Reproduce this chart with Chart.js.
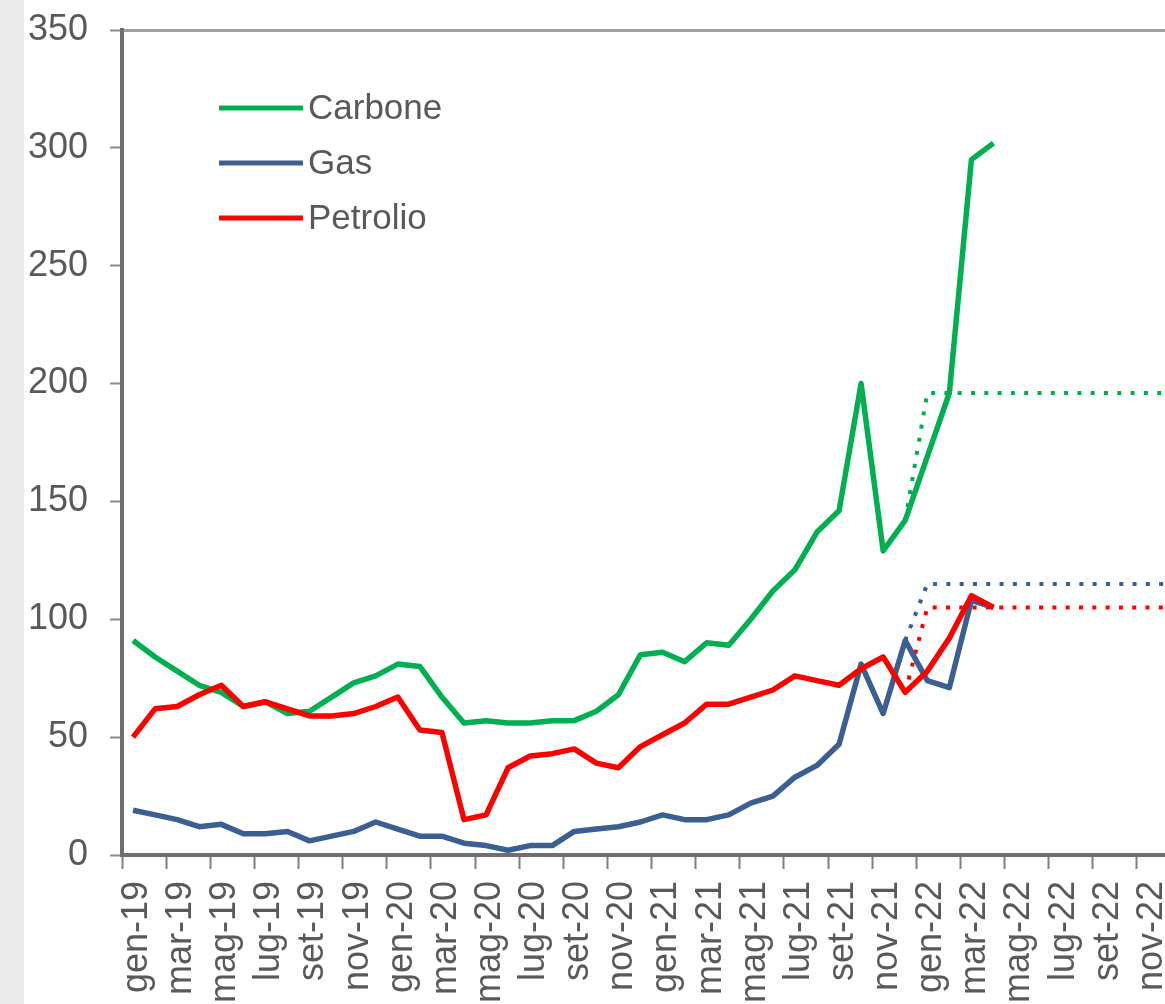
<!DOCTYPE html>
<html>
<head>
<meta charset="utf-8">
<script src="https://cdn.jsdelivr.net/npm/chart.js@4.4.1/dist/chart.umd.min.js"></script>
<style>
  html, body { margin: 0; padding: 0; background: #fff; overflow: hidden; }
  #strip { position: absolute; left: 0; top: 0; width: 24px; height: 1004px; background: #ebebeb; z-index: 2; }
  #wrap { position: absolute; left: 0; top: 0; width: 1181px; height: 1004px; }
</style>
</head>
<body>
<div id="strip"></div>
<div id="wrap"><canvas id="prezzi" width="1181" height="1004"></canvas></div>
<script>
const mesi = [
  'gen-19', 'feb-19', 'mar-19', 'apr-19', 'mag-19', 'giu-19', 'lug-19', 'ago-19', 'set-19', 'ott-19', 'nov-19', 'dic-19',
  'gen-20', 'feb-20', 'mar-20', 'apr-20', 'mag-20', 'giu-20', 'lug-20', 'ago-20', 'set-20', 'ott-20', 'nov-20', 'dic-20',
  'gen-21', 'feb-21', 'mar-21', 'apr-21', 'mag-21', 'giu-21', 'lug-21', 'ago-21', 'set-21', 'ott-21', 'nov-21', 'dic-21',
  'gen-22', 'feb-22', 'mar-22', 'apr-22', 'mag-22', 'giu-22', 'lug-22', 'ago-22', 'set-22', 'ott-22', 'nov-22', 'dic-22'
];

// valori mensili
const carbone = [
  91, 84, 78, 72, 69, 63, 65, 60, 61, 67, 73, 76,
  81, 80, 67, 56, 57, 56, 56, 57, 57, 61, 68, 85,
  86, 82, 90, 89, 100, 112, 121, 137, 146, 200, 129, 142,
  169, 196, 295, 302
];
const gas = [
  19, 17, 15, 12, 13, 9, 9, 10, 6, 8, 10, 14,
  11, 8, 8, 5, 4, 2, 4, 4, 10, 11, 12, 14,
  17, 15, 15, 17, 22, 25, 33, 38, 47, 81, 60, 91,
  74, 71, 108, 105
];
const petrolio = [
  50, 62, 63, 68, 72, 63, 65, 62, 59, 59, 60, 63,
  67, 53, 52, 15, 17, 37, 42, 43, 45, 39, 37, 46,
  51, 56, 64, 64, 67, 70, 76, 74, 72, 79, 84, 69,
  78, 92, 110, 105
];

// curve forward (tratteggiate)
const carboneFwd = [
  null, null, null, null, null, null, null, null, null, null, null, null,
  null, null, null, null, null, null, null, null, null, null, null, null,
  null, null, null, null, null, null, null, null, null, null, null, 142,
  196, 196, 196, 196, 196, 196, 196, 196, 196, 196, 196, 196
];
const gasFwd = [
  null, null, null, null, null, null, null, null, null, null, null, null,
  null, null, null, null, null, null, null, null, null, null, null, null,
  null, null, null, null, null, null, null, null, null, null, null, 91,
  115, 115, 115, 115, 115, 115, 115, 115, 115, 115, 115, 115
];
const petrolioFwd = [
  null, null, null, null, null, null, null, null, null, null, null, null,
  null, null, null, null, null, null, null, null, null, null, null, null,
  null, null, null, null, null, null, null, null, null, null, null, 69,
  105, 105, 105, 105, 105, 105, 105, 105, 105, 105, 105, 105
];

const VERDE = '#00b050';
const BLU = '#3c5f91';
const ROSSO = '#ff0000';
const GRIGIO = '#595959';
const FONT = '"Liberation Sans", Arial, sans-serif';

const legendaInterna = {
  id: 'legendaInterna',
  afterDatasetsDraw(chart) {
    const { ctx } = chart;
    const voci = chart.data.datasets.filter(d => !d.borderDash);
    ctx.save();
    ctx.font = '35px ' + FONT;
    ctx.textBaseline = 'middle';
    voci.forEach((d, i) => {
      const y = 108 + i * 55;
      ctx.strokeStyle = d.borderColor;
      ctx.lineWidth = 5;
      ctx.beginPath();
      ctx.moveTo(219, y);
      ctx.lineTo(303, y);
      ctx.stroke();
      ctx.fillStyle = GRIGIO;
      ctx.fillText(d.label, 308, y + 1);
    });
    ctx.restore();
  }
};

const linea = (label, data, color, order) => ({
  label, data, borderColor: color, backgroundColor: color, order,
  borderWidth: 5.5, pointRadius: 0, tension: 0, borderJoinStyle: 'round'
});
const tratteggio = (label, data, color) => ({
  label, data, borderColor: color, backgroundColor: color, order: 4,
  borderWidth: 4, borderDash: [4, 9.3], pointRadius: 0, tension: 0
});

new Chart(document.getElementById('prezzi'), {
  type: 'line',
  data: {
    labels: mesi,
    datasets: [
      linea('Carbone', carbone, VERDE, 3),
      linea('Gas', gas, BLU, 2),
      linea('Petrolio', petrolio, ROSSO, 1),
      tratteggio('Carbone fwd', carboneFwd, VERDE),
      tratteggio('Gas fwd', gasFwd, BLU),
      tratteggio('Petrolio fwd', petrolioFwd, ROSSO)
    ]
  },
  options: {
    responsive: false,
    animation: false,
    layout: { padding: { top: 30, right: 0, left: 0, bottom: 0 } },
    plugins: { legend: { display: false }, tooltip: { enabled: false } },
    scales: {
      x: {
        offset: true,
        grid: {
          offset: true,
          drawOnChartArea: false,
          tickLength: 14,
          tickWidth: 2,
          tickColor: ctx => ctx.index % 2 === 0 ? '#7f7f7f' : 'transparent'
        },
        border: { color: '#6f6f6f', width: 4 },
        ticks: {
          autoSkip: false,
          maxRotation: 90,
          minRotation: 90,
          padding: 12,
          labelOffset: 4,
          color: GRIGIO,
          font: { family: FONT, size: 36 },
          callback: (v, i) => i % 2 === 0 ? mesi[i] : ''
        },
        afterFit: s => { s.height = 149; s.paddingLeft = 0; s.paddingRight = 0; }
      },
      y: {
        min: 0,
        max: 350,
        ticks: { stepSize: 50, padding: 22, color: GRIGIO, font: { family: FONT, size: 36 } },
        grid: {
          tickLength: 12,
          tickWidth: 2,
          lineWidth: 3,
          color: ctx => ctx.tick && ctx.tick.value === 350 ? '#a0a0a0' : 'transparent',
          tickColor: '#8c8c8c'
        },
        border: { color: '#6f6f6f', width: 4 },
        afterFit: s => { s.width = 122; s.paddingTop = 0; s.paddingBottom = 0; }
      }
    }
  },
  plugins: [legendaInterna]
});
</script>
</body>
</html>
